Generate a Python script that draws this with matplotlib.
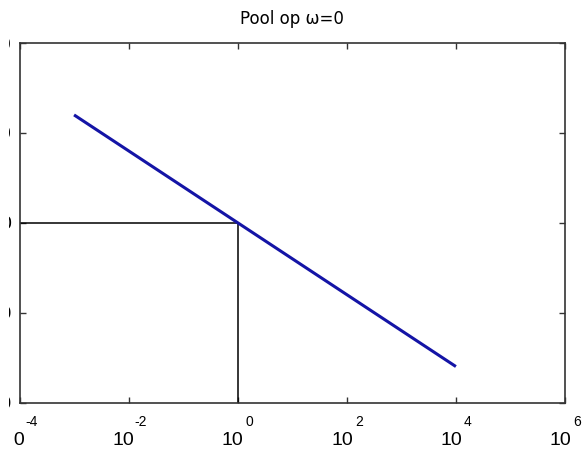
import numpy as np
import matplotlib
matplotlib.use("Agg")
import matplotlib.pyplot as plt
from matplotlib.patches import Rectangle

plt.rcParams['font.family'] = ['Liberation Sans', 'DejaVu Sans']

# Bode magnitude of a pole at the origin: |H| = -20 log10(w) dB
freq = [1e-3, 1e4]
gain_db = [60, -80]

# Guide lines through the 0 dB crossing at w = 1
guide_h_x = [1e-4, 1.0]
guide_h_y = [0, 0]
guide_v_x = [1.0, 1.0]
guide_v_y = [-100, 0]

xtick_exps = [-4, -2, 0, 2, 4, 6]
ytick_vals = [-100, -50, 0, 50, 100]
ytick_labels = ['-100', '-50', '0', '50', '100']

W, H = 583, 450
fig = plt.figure(figsize=(W / 100, H / 100), dpi=100)
ax = fig.add_axes([19.5 / W, 1 - 402.5 / H, (565 - 19.5) / W, (402.5 - 43) / H])

ax.plot(freq, gain_db, color='#1414a6', lw=2.2, solid_capstyle='butt', zorder=3)
ax.plot(guide_h_x, guide_h_y, color='black', lw=1.1, zorder=2)
ax.plot(guide_v_x, guide_v_y, color='black', lw=1.1, zorder=2)

ax.set_xscale('log')
ax.set_xlim(1e-4, 1e6)
ax.set_ylim(-100, 100)

xticks = [10.0 ** e for e in xtick_exps]
ax.set_xticks(xticks)
ax.set_xticklabels([])
ax.xaxis.set_minor_locator(matplotlib.ticker.NullLocator())
ax.set_yticks(ytick_vals)
ax.set_yticklabels(ytick_labels, fontsize=14)

ax.tick_params(axis='both', which='major', direction='in', length=4,
               width=1.0, color='#333333', top=True, right=True)
ax.tick_params(axis='y', pad=6.1)
for s in ax.spines.values():
    s.set_color('#333333')
    s.set_linewidth(1.2)

px = 72 / 100  # points per pixel
for xt, e in zip(xticks, xtick_exps):
    ax.annotate('10', xy=(xt, 0), xycoords=('data', 'axes fraction'),
                xytext=(6 * px, -42.5 * px), textcoords='offset points',
                ha='right', va='baseline', fontsize=14, annotation_clip=False)
    ax.annotate(str(e), xy=(xt, 0), xycoords=('data', 'axes fraction'),
                xytext=(12 * px, -24 * px), textcoords='offset points',
                ha='center', va='baseline', fontsize=10, annotation_clip=False)

ax.set_title('Pool op ω=0', fontsize=12, pad=13.5, family=['DejaVu Sans'])

# Trim the outer left margin
fig.patches.append(Rectangle((0, 0), 8.5 / W, 1, transform=fig.transFigure,
                             facecolor='white', edgecolor='none', zorder=10))
fig.patches.append(Rectangle((0, 0), 14 / W, 40 / H, transform=fig.transFigure,
                             facecolor='white', edgecolor='none', zorder=10))

fig.savefig('out.png', dpi=100, facecolor='white')
